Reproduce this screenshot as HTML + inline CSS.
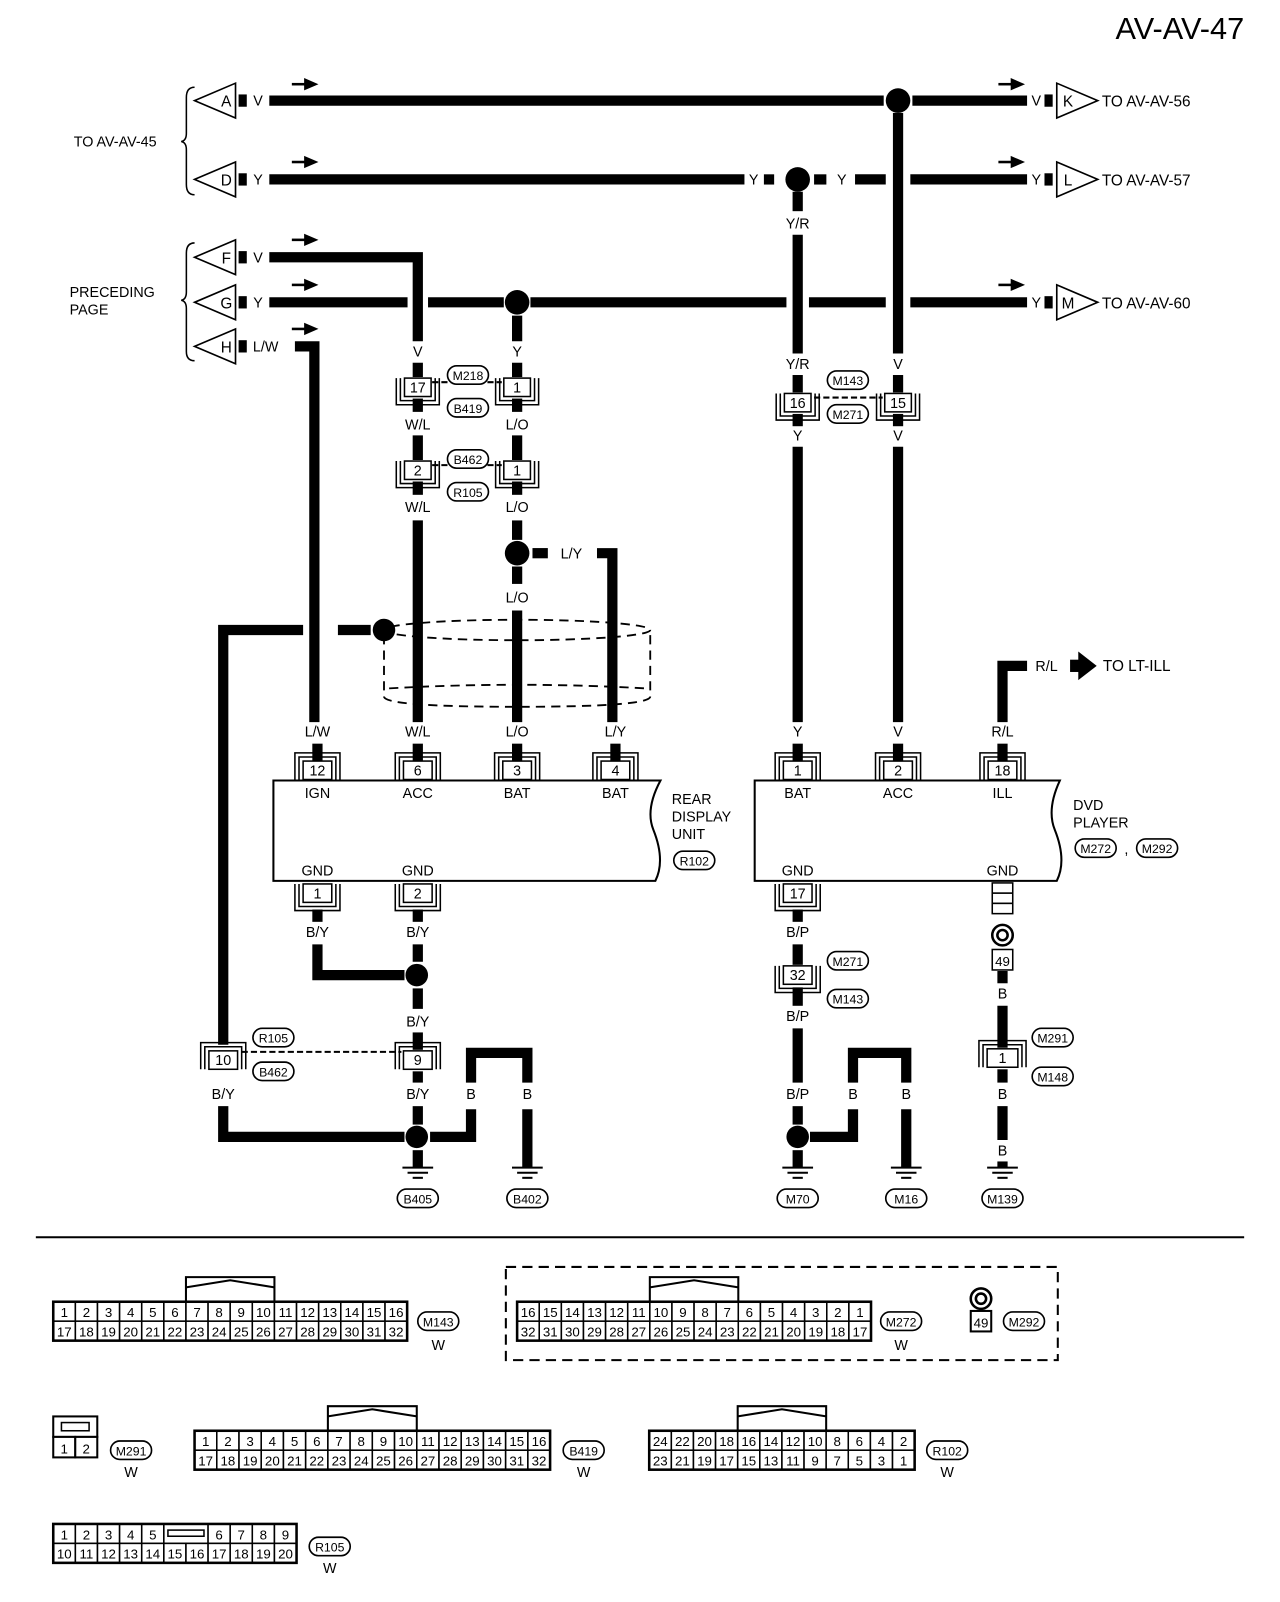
<!DOCTYPE html>
<html><head><meta charset="utf-8"><style>
html,body{margin:0;padding:0;background:#fff;}
svg{display:block;}
text{font-family:"Liberation Sans",Arial,sans-serif;fill:#000;}
</style></head><body>
<svg id="s" xmlns="http://www.w3.org/2000/svg" width="1280" height="1602" viewBox="0 0 1250 1564"></svg>
<script>
var o='';
function W(p){o+='<polyline points="'+p+'" fill="none" stroke="#000" stroke-width="10" stroke-linejoin="miter"/>';}
function L(x1,y1,x2,y2,w,d){o+='<line x1="'+x1+'" y1="'+y1+'" x2="'+x2+'" y2="'+y2+'" stroke="#000" stroke-width="'+(w||2)+'"'+(d?' stroke-dasharray="'+d+'"':'')+'/>';}
function T(x,y,t,s,a){o+='<text x="'+x+'" y="'+y+'" font-size="'+(s||14)+'" text-anchor="'+(a||'middle')+'">'+t+'</text>';}
function D(x,y,r){o+='<circle cx="'+x+'" cy="'+y+'" r="'+(r||11)+'" fill="#000"/>';}
function R(x,y,w,h,f,sw){o+='<rect x="'+x+'" y="'+y+'" width="'+w+'" height="'+h+'" fill="'+(f||'#fff')+'" stroke="#000" stroke-width="'+(sw==null?1.5:sw)+'"/>';}
function OV(x,y,t){o+='<rect x="'+(x-20)+'" y="'+(y-9)+'" width="40" height="18" rx="9" fill="#fff" stroke="#000" stroke-width="1.6"/>';T(x,y+5,t,12);}
function C(x,y,t,dir,w){w=w||26;var h=18;
 if(dir=='n'){o+='<path d="M'+(x-w/2-8)+','+(y+h/2)+' V'+(y-h/2-8)+' H'+(x+w/2+8)+' V'+(y+h/2)+' M'+(x-w/2-4)+','+(y+h/2)+' V'+(y-h/2-4)+' H'+(x+w/2+4)+' V'+(y+h/2)+'" fill="none" stroke="#000" stroke-width="1.5"/>';}
 else if(dir=='u'){o+='<path d="M'+(x-w/2-8)+','+(y-h/2)+' V'+(y+h/2+8)+' H'+(x+w/2+8)+' V'+(y-h/2)+' M'+(x-w/2-4)+','+(y-h/2)+' V'+(y+h/2+4)+' H'+(x+w/2+4)+' V'+(y-h/2)+'" fill="none" stroke="#000" stroke-width="1.5"/>';}
 R(x-w/2,y-h/2,w,h);T(x,y+5,t,14);}
function G(x,y){L(x-15,y,x+15,y,2);L(x-10,y+5,x+10,y+5,2);L(x-5,y+10,x+5,y+10,2);}
function AR(x,y){L(x,y,x+14,y,2.5);o+='<polygon points="'+(x+12)+','+(y-6)+' '+(x+26)+','+y+' '+(x+12)+','+(y+6)+'" fill="#000"/>';}
function TL(y,l,c){o+='<polygon points="190,'+y+' 230,'+(y-17)+' 230,'+(y+17)+'" fill="#fff" stroke="#000" stroke-width="1.6"/>';T(221,y+6,l,15);R(233,y-6,8,12,'#000',0);if(c=='L/W')T(247,y+5,c,14,'start');else T(252,y+5,c,14);}
function TR(y,l,c,dst){T(1012,y+5,c,14);R(1020,y-6,8,12,'#000',0);o+='<polygon points="1072,'+y+' 1032,'+(y-17)+' 1032,'+(y+17)+'" fill="#fff" stroke="#000" stroke-width="1.6"/>';T(1043,y+6,l,15);T(1076,y+6,dst,15,'start');}

T(1215,38,'AV-AV-47',30,'end');
o+='<path d="M190,85 Q182,85 182,95 V130 Q182,137 177,138 Q182,139 182,146 V180 Q182,190 190,190" fill="none" stroke="#000" stroke-width="1.5"/>';
o+='<path d="M190,237 Q182,237 182,247 V285 Q182,292 177,293 Q182,294 182,301 V343 Q182,352 190,352" fill="none" stroke="#000" stroke-width="1.5"/>';
T(72,143,'TO AV-AV-45',14,'start');T(68,290,'PRECEDING',14,'start');T(68,307,'PAGE',14,'start');
TL(98,'A','V');TL(175,'D','Y');TL(251,'F','V');TL(295,'G','Y');TL(338,'H','L/W');
AR(285,82);AR(285,158);AR(285,234);AR(285,278);AR(285,321);
AR(975,82);AR(975,158);AR(975,278);
TR(98,'K','V','TO AV-AV-56');TR(175,'L','Y','TO AV-AV-57');TR(295,'M','Y','TO AV-AV-60');
W('263,98 863,98');W('891,98 1003,98');D(877,98,12);
W('263,175 727,175');T(736,180,'Y');R(746,170,10,10,'#000',0);D(779,175,12);R(795,170,12,10,'#000',0);T(822,180,'Y');W('835,175 865,175');W('889,175 1003,175');
W('877,110 877,345');W('877,366 877,383');W('877,404 877,416');W('877,436 877,705');
W('779,187 779,206');T(779,223,'Y/R');W('779,229 779,345');T(779,360,'Y/R');W('779,366 779,383');C(779,393,'16','u',26);W('779,404 779,416');T(779,430,'Y');W('779,436 779,705');
T(877,360,'V');C(877,393,'15','u',26);T(877,430,'V');
L(795,388,862,388,2,'6,3');OV(828,371,'M143');OV(828,404,'M271');
W('263,251 408,251 408,333');T(408,348,'V');W('408,354 408,368');C(408,378,'17','u',26);W('408,389 408,402');T(408,419,'W/L');W('408,425 408,449');C(408,459,'2','u',26);W('408,470 408,483');T(408,500,'W/L');W('408,508 408,705');
W('263,295 398,295');W('418,295 492,295');D(505,295,12);W('518,295 768,295');W('790,295 865,295');W('889,295 1003,295');
W('505,308 505,333');T(505,348,'Y');W('505,354 505,368');C(505,378,'1','u',26);W('505,389 505,402');T(505,419,'L/O');W('505,425 505,449');C(505,459,'1','u',26);W('505,470 505,483');T(505,500,'L/O');W('505,508 505,527');
L(422,373,490,373,2,'6,3');L(422,454,490,454,2,'6,3');OV(457,366,'M218');OV(457,398,'B419');OV(457,448,'B462');OV(457,480,'R105');
D(505,540,12);W('505,553 505,570');T(505,588,'L/O');W('505,596 505,705');
R(520,535,15,10,'#000',0);T(558,545,'L/Y');W('583,540 598,540 598,705');
W('288,338 307,338 307,705');
o+='<g fill="none" stroke="#000" stroke-width="1.8" stroke-dasharray="9,6"><ellipse cx="505" cy="615" rx="130" ry="10"/><path d="M375,680 Q375,690 505,690 Q635,690 635,680"/><line x1="375" y1="620" x2="375" y2="680"/><line x1="635" y1="620" x2="635" y2="680"/><path d="M380,672 Q505,665 630,672"/></g>';
D(375,615,11);W('330,615 362,615');W('296,615 218,615 218,1020');
o+='<path d="M267,762 H645 Q630,790 638,810 Q650,840 640,860 H267 Z" fill="#fff" stroke="#000" stroke-width="2"/>';
T(310,719,'L/W');T(408,719,'W/L');T(505,719,'L/O');T(601,719,'L/Y');
[[310,'12','IGN'],[408,'6','ACC'],[505,'3','BAT'],[601,'4','BAT']].forEach(function(a){W(a[0]+',726 '+a[0]+',745');C(a[0],752,a[1],'n',28);T(a[0],779,a[2]);});
T(310,855,'GND');T(408,855,'GND');
C(310,872,'1','u',28);C(408,872,'2','u',28);
T(656,785,'REAR',14,'start');T(656,802,'DISPLAY',14,'start');T(656,819,'UNIT',14,'start');OV(678,840,'R102');
o+='<path d="M737,762 H1035 Q1022,790 1030,810 Q1042,840 1032,860 H737 Z" fill="#fff" stroke="#000" stroke-width="2"/>';
T(779,719,'Y');T(877,719,'V');T(979,719,'R/L');
[[779,'1','BAT'],[877,'2','ACC'],[979,'18','ILL']].forEach(function(a){W(a[0]+',726 '+a[0]+',745');C(a[0],752,a[1],'n',28);T(a[0],779,a[2]);});
W('979,705 979,650 1003,650');T(1022,655,'R/L');R(1045,644,10,12,'#000',0);o+='<polygon points="1053,636 1071,650 1053,664" fill="#000"/>';T(1077,655,'TO LT-ILL',15,'start');
T(1048,791,'DVD',14,'start');T(1048,808,'PLAYER',14,'start');OV(1070,828,'M272');T(1100,834,',');OV(1130,828,'M292');
T(779,855,'GND');T(979,855,'GND');
C(779,872,'17','u',28);
R(969,862,20,10);R(969,872,20,10);R(969,882,20,10);
W('310,888 310,900');T(310,915,'B/Y');W('310,922 310,952 395,952');D(407,952,11);
W('408,888 408,900');T(408,915,'B/Y');W('408,922 408,939');W('408,965 408,985');T(408,1002,'B/Y');W('408,1008 408,1025');C(408,1035,'9','n',28);W('408,1046 408,1057');T(408,1073,'B/Y');W('408,1080 408,1098');
C(218,1035,'10','n',28);L(236,1027,392,1027,2,'6,3');OV(267,1013,'R105');OV(267,1046,'B462');
T(218,1073,'B/Y');W('218,1080 218,1110 395,1110');D(407,1110,11);W('420,1110 460,1110 460,1083');T(460,1073,'B');W('460,1057 460,1028 515,1028 515,1057');T(515,1073,'B');W('515,1083 515,1140');
W('408,1123 408,1140');G(408,1140);G(515,1140);OV(408,1170,'B405');OV(515,1170,'B402');
W('779,888 779,900');T(779,915,'B/P');W('779,922 779,942');C(779,952,'32','u',28);OV(828,938,'M271');OV(828,975,'M143');W('779,964 779,982');T(779,997,'B/P');W('779,1004 779,1057');T(779,1073,'B/P');W('779,1080 779,1098');D(779,1110,11);W('779,1123 779,1140');G(779,1140);
W('791,1110 833,1110 833,1083');T(833,1073,'B');W('833,1057 833,1028 885,1028 885,1057');T(885,1073,'B');W('885,1083 885,1140');G(885,1140);
OV(779,1170,'M70');OV(885,1170,'M16');
o+='<circle cx="979" cy="913" r="10" fill="none" stroke="#000" stroke-width="2.5"/><circle cx="979" cy="913" r="5" fill="none" stroke="#000" stroke-width="2.5"/>';
R(969,927,20,20);T(979,943,'49',13);W('979,948 979,960');T(979,975,'B');W('979,982 979,1023');C(979,1033,'1','n',30);OV(1028,1013,'M291');OV(1028,1051,'M148');W('979,1044 979,1057');T(979,1073,'B');W('979,1080 979,1113');T(979,1128,'B');W('979,1134 979,1140');G(979,1140);OV(979,1170,'M139');
L(35,1208,1215,1208,2);
function TB(x,y,cw,top,bot,hs,he,ht){var n=top.length;var h=19;
 for(var i=0;i<n;i++){R(x+i*cw,y,cw,h,'#fff',1.5);T(x+i*cw+cw/2,y+15,top[i],13);}
 for(var i=0;i<bot.length;i++){R(x+i*cw,y+h,cw,h,'#fff',1.5);T(x+i*cw+cw/2,y+h+15,bot[i],13);}
 o+='<rect x="'+x+'" y="'+y+'" width="'+(n*cw)+'" height="'+(2*h)+'" fill="none" stroke="#000" stroke-width="2.5"/>';
 if(hs!=null){var a=x+hs*cw,b=x+he*cw;o+='<path d="M'+a+','+y+' V'+(y-ht)+' H'+b+' V'+y+' M'+a+','+(y-ht+10)+' L'+((a+b)/2)+','+(y-ht+3)+' L'+b+','+(y-ht+10)+'" fill="none" stroke="#000" stroke-width="2"/>';}}
function rng(a,b){var r=[];if(a<=b)for(var i=a;i<=b;i++)r.push(''+i);else for(var i=a;i>=b;i--)r.push(''+i);return r;}
TB(52,1271,21.6,rng(1,16),rng(17,32),6,10,24);OV(428,1290,'M143');T(428,1318,'W');
o+='<rect x="494" y="1237" width="539" height="91" fill="none" stroke="#000" stroke-width="2" stroke-dasharray="10,6"/>';
TB(505,1271,21.6,rng(16,1),rng(32,17),6,10,24);OV(880,1290,'M272');T(880,1318,'W');
o+='<circle cx="958" cy="1268" r="10" fill="none" stroke="#000" stroke-width="2.5"/><circle cx="958" cy="1268" r="5" fill="none" stroke="#000" stroke-width="2.5"/>';R(948,1280,20,20,'#fff',2);T(958,1296,'49',13);OV(1000,1290,'M292');
R(52,1383,43,20,'#fff',2);R(60,1389,27,8,'#fff',1.5);R(52,1403,21.5,20,'#fff',2);R(73.5,1403,21.5,20,'#fff',2);T(62.7,1419,'1',13);T(84.2,1419,'2',13);OV(128,1416,'M291');T(128,1442,'W');
TB(190,1397,21.7,rng(1,16),rng(17,32),6,10,24);OV(570,1416,'B419');T(570,1442,'W');
TB(634,1397,21.6,['24','22','20','18','16','14','12','10','8','6','4','2'],['23','21','19','17','15','13','11','9','7','5','3','1'],4,8,24);OV(925,1416,'R102');T(925,1442,'W');
(function(){var x=52,y=1488,cw=21.6,h=19;var top=['1','2','3','4','5','','6','7','8','9'];
 for(var i=0;i<5;i++){R(x+i*cw,y,cw,h);T(x+i*cw+cw/2,y+15,top[i],13);}
 R(x+5*cw,y,2*cw,h);R(x+5*cw+4,y+6,2*cw-8,6,'#fff',1.5);
 for(var i=6;i<10;i++){R(x+(i+1)*cw,y,cw,h);T(x+(i+1)*cw+cw/2,y+15,top[i],13);}
 var bot=rng(10,20);for(var i=0;i<11;i++){R(x+i*cw,y+h,cw,h);T(x+i*cw+cw/2,y+h+15,bot[i],13);}
 o+='<rect x="'+x+'" y="'+y+'" width="'+(11*cw)+'" height="'+(2*h)+'" fill="none" stroke="#000" stroke-width="2.5"/>';})();
OV(322,1510,'R105');T(322,1536,'W');
document.getElementById('s').innerHTML=o;
</script>
</body></html>
